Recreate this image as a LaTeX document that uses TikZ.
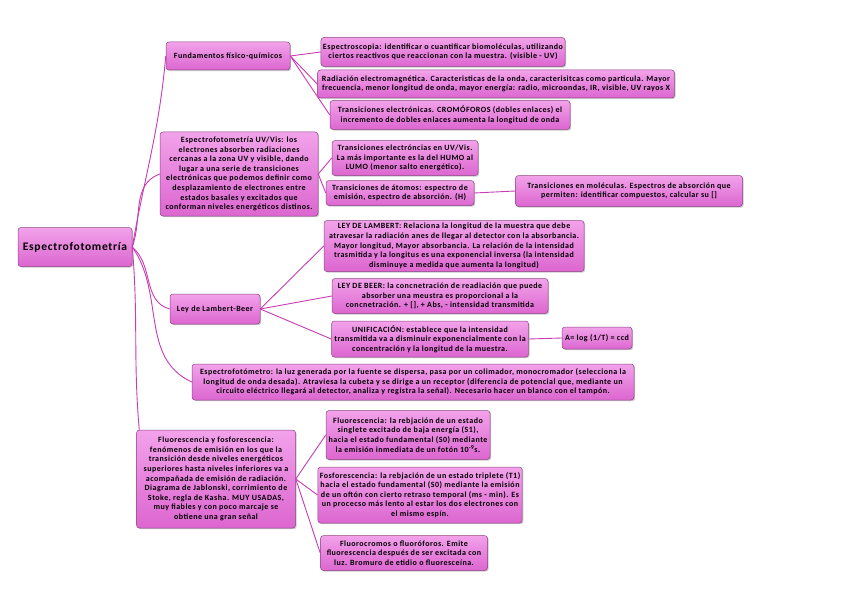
\documentclass[tikz,border=0pt]{standalone}
\usepackage{fontspec}
\setmainfont{Carlito}[LetterSpace=6]
\usetikzlibrary{positioning,shadows}
\definecolor{linkpink}{HTML}{C83CB4}
\definecolor{topicedge}{HTML}{8C4684}
\definecolor{topictop}{HTML}{F2A2EA}
\definecolor{topicbot}{HTML}{DC66D0}
\tikzset{
  topic/.style={
    rounded corners=3pt,draw=topicedge,line width=.5pt,
    top color=topictop,bottom color=topicbot,text=black,
    align=center,inner sep=2pt,
    font=\bfseries\fontsize{8}{9.6}\selectfont,
    drop shadow={shadow xshift=1.2pt,shadow yshift=-1.2pt,opacity=.35,fill=black!60}
  },
  maintopic/.style={topic,font=\bfseries\fontsize{11.5}{13}\selectfont},
  link/.style={draw=linkpink,line width=.9pt}
}
\begin{document}
\begin{tikzpicture}[x=1pt,y=1pt]
\useasboundingbox[fill=white] (0,0) rectangle (848,-599);

\node[maintopic,minimum width=114,minimum height=39] (espec) at (75,-247) {Espectrofotometría};

% fundamentos
\node[topic,minimum width=124,minimum height=28] (fund) at (228,-56) {Fundamentos físico-químicos};
\node[topic,minimum width=242,minimum height=29] (escopia) at (443,-52)
{Espectroscopia: identificar o cuantificar biomoléculas, utilizando\\ciertos reactivos que reaccionan con la muestra. (visible - UV)};
\node[topic,minimum width=357,minimum height=28] (radia) at (496,-84)
{Radiación electromagnética. Caracteristicas de la onda, caracterisitcas como particula. Mayor\\frecuencia, menor longitud de onda, mayor energía: radio, microondas, IR, visible, UV rayos X};
\node[topic,minimum width=240,minimum height=29] (trelec) at (450,-115)
{Transiciones electrónicas. CROMÓFOROS (dobles enlaces) el\\incremento de dobles enlaces aumenta la longitud de onda};

% uv/vis
\node[topic,minimum width=158,minimum height=84] (uvvis) at (239,-174)
{Espectrofotometría UV/Vis: los\\electrones absorben radiaciones\\cercanas a la zona UV y visible, dando\\lugar a una serie de transiciones\\electrónicas que podemos definir como\\desplazamiento de electrones entre\\estados basales y excitados que\\conforman niveles energéticos distinos.};
\node[topic,minimum width=146,minimum height=35] (truv) at (405,-158)
{Transiciones electróncias en UV/Vis.\\La más importante es la del HUMO al\\LUMO (menor salto energético).};
\node[topic,minimum width=148,minimum height=25] (tratom) at (400,-193)
{Transiciones de átomos: espectro de\\emisión, espectro de absorción. (H)};
\node[topic,minimum width=227,minimum height=31] (trmol) at (629,-191)
{Transiciones en moléculas. Espectros de absorción que\\permiten: identificar compuestos, calcular su []};

% lambert-beer
\node[topic,minimum width=90,minimum height=30] (lb) at (215,-309) {Ley de Lambert-Beer};
\node[topic,minimum width=260,minimum height=51] (lambert) at (454,-246)
{LEY DE LAMBERT: Relaciona la longitud de la muestra que debe\\atravesar la radiación anes de llegar al detector con la absorbancia.\\Mayor longitud, Mayor absorbancia. La relación de la intensidad\\trasmitida y la longitus es una exponencial inversa (la intensidad\\disminuye a medida que aumenta la longitud)};
\node[topic,minimum width=216,minimum height=35] (beer) at (440,-296)
{LEY DE BEER: la concnetración de readiación que puede\\absorber una meustra es proporcional a la\\concnetración. + [], + Abs, - intensidad transmitida};
\node[topic,minimum width=197,minimum height=36] (unif) at (430,-339)
{UNIFICACIÓN: establece que la intensidad\\transmitida va a disminuir exponencialmente con la\\concentración y la longitud de la muestra.};
\node[topic,minimum width=70,minimum height=22] (formula) at (597,-338) {A= log (1/T) = ccd};

% espectrofotometro
\node[topic,minimum width=442,minimum height=36] (fotom) at (413,-382)
{Espectrofotómetro: la luz generada por la fuente se dispersa, pasa por un colimador, monocromador (selecciona la\\longitud de onda desada). Atraviesa la cubeta y se dirige a un receptor (diferencia de potencial que, mediante un\\circuito eléctrico llegará al detector, analiza y registra la señal). Necesario hacer un blanco con el tampón.};

% fluorescencia
\node[topic,minimum width=159,minimum height=98] (fluorfosf) at (216,-479)
{Fluorescencia y fosforescencia:\\fenómenos de emisión en los que la\\transición desde niveles energéticos\\superiores hasta niveles inferiores va a\\acompañada de emisión de radiación.\\Diagrama de Jablonski, corrimiento de\\Stoke, regla de Kasha. MUY USADAS,\\muy fiables y con poco marcaje se\\obtiene una gran señal};
\node[topic,minimum width=164,minimum height=49] (fluor) at (408,-435)
{Fluorescencia: la rebjación de un estado\\singlete excitado de baja energía (S1),\\hacia el estado fundamental (S0) mediante\\la emisión inmediata de un fotón 10\textsuperscript{-9}s.};
\node[topic,minimum width=204,minimum height=56] (fosf) at (420,-495)
{Fosforescencia: la rebjación de un estado triplete (T1)\\hacia el estado fundamental (S0) mediante la emisión\\de un oftón con cierto retraso temporal (ms - min). Es\\un procecso más lento al estar los dos electrones con\\el mismo espín.};
\node[topic,minimum width=167,minimum height=35] (cromo) at (404,-553)
{Fluorocromos o fluoróforos. Emite\\fluorescencia después de ser excitada con\\luz. Bromuro de etidio o fluoresceína.};

% links from the main topic
\draw[link] (espec.east) to[out=80,in=265] (fund.west);
\draw[link] (espec.east) to[out=70,in=200] (uvvis.west);
\draw[link] (espec.east) to[out=-40,in=165] (lb.west);
\draw[link] (espec.east) to[out=-55,in=155] (fotom.west);
\draw[link] (espec.east) to[out=-85,in=95] ([xshift=3pt]fluorfosf.north west);

% links to subtopics
\foreach \kid in {escopia,radia,trelec}
  \draw[link] (fund.east) -- (\kid.west);
\foreach \kid in {truv,tratom}
  \draw[link] (uvvis.east) -- (\kid.west);
\draw[link] (tratom.east) -- (trmol.west);
\foreach \kid in {lambert,beer,unif}
  \draw[link] (lb.east) -- (\kid.west);
\draw[link] (unif.east) -- (formula.west);
\foreach \kid in {fluor,fosf,cromo}
  \draw[link] (fluorfosf.east) -- (\kid.west);
\end{tikzpicture}
\end{document}
